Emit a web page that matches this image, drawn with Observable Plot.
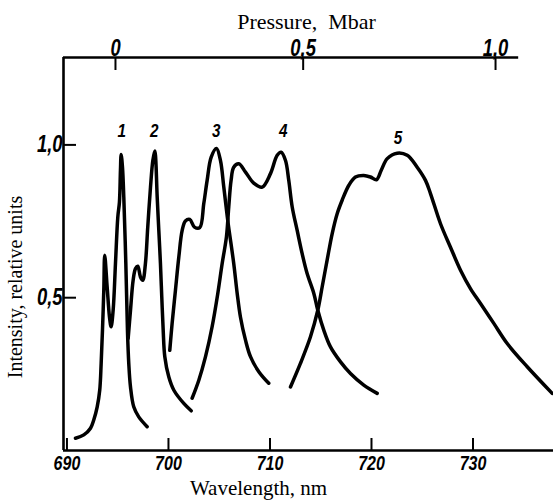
<!DOCTYPE html>
<html>
<head>
<meta charset="utf-8">
<script src="https://cdn.jsdelivr.net/npm/d3@7"></script>
<script src="https://cdn.jsdelivr.net/npm/@observablehq/plot@0.6"></script>
<style>
  html, body { margin: 0; padding: 0; background: #fff; }
  #chart svg { display: block; }
</style>
</head>
<body>
<div id="chart"></div>
<script>
// Wavelength ticks (bottom axis), nm
const wavelengthTicks = [690, 700, 710, 720, 730];
// Pressure ticks (top axis), Mbar, and the wavelength each one sits over
const pressureTicks = [0, 0.5, 1.0];
const pressureTickWavelength = [694.78, 713.27, 732.22];
// Intensity ticks
const intensityTicks = [0.5, 1.0];

// Spectra: [wavelength nm, intensity rel. units]
const curve1 = [
  [690.84,0.040],[691.66,0.051],[692.32,0.073],[692.64,0.100],[692.98,0.143],[693.23,0.198],
  [693.37,0.285],[693.50,0.394],[693.63,0.525],[693.72,0.639],[693.96,0.535],[694.19,0.437],
  [694.35,0.405],[694.55,0.459],[694.78,0.612],[695.01,0.764],[695.17,0.813],[695.27,0.917],
  [695.34,0.969],[695.47,0.927],[695.60,0.829],[695.80,0.612],[695.96,0.394],[696.09,0.285],
  [696.26,0.208],[696.58,0.143],[697.07,0.110],[697.90,0.078]
];
const curve2 = [
  [696.03,0.367],[696.26,0.459],[696.52,0.557],[696.75,0.595],[696.98,0.603],[697.24,0.568],
  [697.47,0.557],[697.73,0.612],[697.96,0.731],[698.23,0.862],[698.46,0.949],[698.65,0.980],
  [698.72,0.966],[698.89,0.829],[699.05,0.720],[699.21,0.612],[699.34,0.503],[699.48,0.394],
  [699.64,0.307],[700.03,0.241],[700.52,0.198],[701.51,0.154],[702.24,0.130]
];
const curve3 = [
  [700.13,0.328],[700.36,0.416],[700.69,0.525],[701.02,0.633],[701.35,0.720],[701.67,0.751],
  [702.10,0.756],[702.56,0.731],[703.08,0.729],[703.48,0.808],[703.81,0.884],[704.21,0.960],
  [704.73,0.988],[705.12,0.949],[705.45,0.862],[705.84,0.753],[706.43,0.612],[706.77,0.514],
  [707.09,0.437],[707.59,0.361],[708.08,0.307],[708.90,0.258],[709.88,0.220]
];
const curve4 = [
  [702.33,0.171],[702.99,0.230],[703.65,0.307],[704.30,0.405],[704.86,0.514],[705.29,0.612],
  [705.71,0.699],[705.94,0.797],[706.17,0.884],[706.43,0.927],[706.93,0.938],[707.59,0.911],
  [708.40,0.875],[709.23,0.862],[710.05,0.906],[710.71,0.966],[711.10,0.976],[711.53,0.949],
  [711.85,0.884],[712.19,0.797],[712.68,0.720],[713.17,0.644],[713.66,0.579],[714.32,0.514],
  [714.71,0.459],[715.30,0.394],[715.96,0.339],[716.95,0.290],[717.93,0.252],[719.24,0.214],
  [720.56,0.187]
];
const curve5 = [
  [712.02,0.208],[713.00,0.285],[713.99,0.372],[714.71,0.459],[715.14,0.535],[715.63,0.623],
  [716.13,0.710],[716.62,0.775],[717.11,0.819],[717.77,0.868],[718.42,0.895],[719.24,0.900],
  [719.90,0.895],[720.49,0.886],[720.96,0.917],[721.55,0.955],[722.53,0.973],[723.52,0.966],
  [724.50,0.927],[725.32,0.884],[725.82,0.840],[726.80,0.742],[727.77,0.666],[728.77,0.590],
  [729.75,0.530],[730.74,0.481],[732.05,0.416],[733.37,0.350],[735.34,0.274],[737.80,0.187]
];
const curveNames = ["1", "2", "3", "4", "5"];
const curveLabelWavelength = [695.4, 698.6, 704.7, 711.3, 722.6];
const curveLabelIntensity = [1.045, 1.045, 1.045, 1.045, 1.022];

const curves = [curve1, curve2, curve3, curve4, curve5];
const spectra = curves.flatMap((c, k) => c.map(([wl, v]) => ({curve: curveNames[k], wl, v})));
const labels = curveNames.map((n, k) => ({n, wl: curveLabelWavelength[k], v: curveLabelIntensity[k]}));
const pressure = pressureTicks.map((p, k) => ({p, wl: pressureTickWavelength[k]}));

const W = 553, H = 501, mL = 63, mR = 0, mT = 57, mB = 51;
const xMin = 689.66, xMax = 737.93, yMax = 1.286, topAxisEnd = 734.5;
// convert inward tick lengths (px) to data units
const nmPerPx = (xMax - xMin) / (W - mL - mR);
const unitPerPx = yMax / (H - mT - mB);
const tickX = 12 * unitPerPx, tickTop = 13 * unitPerPx, tickY = 13 * nmPerPx;

const tickFont = "'Liberation Sans', Arial, sans-serif";
const titleFont = "'Liberation Serif', 'DejaVu Serif', serif";
const comma = d => d.toFixed(1).replace(".", ",");
const digitStyle = {fontStyle: "italic", fontWeight: "bold", fontFamily: tickFont};

const chart = Plot.plot({
  width: W,
  height: H,
  marginLeft: mL,
  marginRight: mR,
  marginTop: mT,
  marginBottom: mB,
  x: {domain: [xMin, xMax], axis: null},
  y: {domain: [0, yMax], axis: null},
  style: {background: "#fff", color: "#000"},
  marks: [
    // axis lines
    Plot.ruleY([0], {stroke: "#000", strokeWidth: 2.6}),
    Plot.ruleX([xMin], {stroke: "#000", strokeWidth: 2.6}),
    Plot.ruleY([yMax], {x1: xMin, x2: topAxisEnd, stroke: "#000", strokeWidth: 2.6}),
    // inward ticks
    Plot.ruleX(wavelengthTicks, {y1: 0, y2: tickX, stroke: "#000", strokeWidth: 2}),
    Plot.ruleX(pressure, {x: "wl", y1: yMax, y2: yMax - tickTop, stroke: "#000", strokeWidth: 2}),
    Plot.ruleY(intensityTicks, {x1: xMin, x2: xMin + tickY, stroke: "#000", strokeWidth: 2}),
    // tick labels
    Plot.text(wavelengthTicks, {x: d => d, frameAnchor: "bottom", dy: 5, lineAnchor: "top",
      text: d => String(d), fontSize: 20, ...digitStyle, className: "digits"}),
    Plot.text(pressure, {x: "wl", frameAnchor: "top", dy: -2, lineAnchor: "bottom",
      text: d => d.p === 0 ? "0" : comma(d.p), fontSize: 23, ...digitStyle, className: "digits"}),
    Plot.text(intensityTicks, {y: d => d, frameAnchor: "left", dx: -1, textAnchor: "end",
      text: comma, fontSize: 23, ...digitStyle, className: "digits"}),
    // axis titles
    Plot.text(["Wavelength, nm"], {frameAnchor: "bottom", dx: -50, dy: 44, lineAnchor: "bottom",
      fontSize: 21, fontFamily: titleFont}),
    Plot.text(["Pressure,  Mbar"], {frameAnchor: "top", dx: -2, dy: -29, lineAnchor: "bottom",
      fontSize: 22, fontFamily: titleFont}),
    Plot.text(["Intensity, relative units"], {frameAnchor: "left", rotate: -90, dx: -48, dy: 33,
      textAnchor: "middle", fontSize: 20, fontFamily: titleFont}),
    // spectra
    Plot.line(spectra, {x: "wl", y: "v", z: "curve", curve: "catmull-rom",
      stroke: "#000", strokeWidth: 3.5, strokeLinejoin: "round", strokeLinecap: "round"}),
    // curve numbers
    Plot.text(labels, {x: "wl", y: "v", text: "n", fontSize: 19, ...digitStyle, className: "digits"})
  ]
});
document.getElementById("chart").appendChild(chart);
// condense the italic digit labels like the original's narrow typeface
d3.select(chart).selectAll(".digits text").style("white-space", "pre").each(function () {
  const w = this.getComputedTextLength();
  this.setAttribute("textLength", (w * 0.8).toFixed(1));
  this.setAttribute("lengthAdjust", "spacingAndGlyphs");
});
</script>
</body>
</html>
